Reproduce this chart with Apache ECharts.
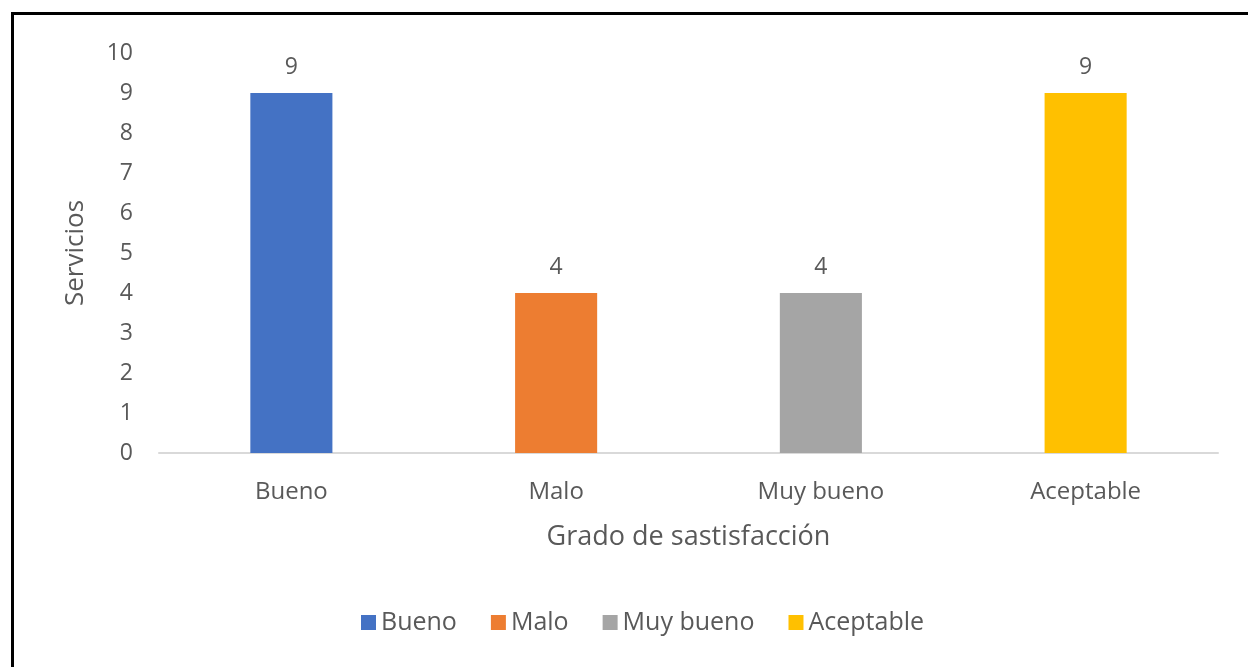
<!DOCTYPE html>
<html>
<head>
<meta charset="utf-8">
<script src="https://cdn.jsdelivr.net/npm/echarts@6/dist/echarts.min.js"></script>
<style>
  html, body { margin: 0; padding: 0; background: #fff; }
  #main { width: 1248px; height: 667px; }
</style>
</head>
<body>
<div id="main"></div>
<script>
// data
const categories = ["Bueno", "Malo", "Muy bueno", "Aceptable"];
const values = [9, 4, 4, 9];
const colors = ["#4472c4", "#ed7d31", "#a5a5a5", "#ffc000"];
const yTicks = { min: 0, max: 10, interval: 1 };

const textColor = "#595959";
const fontFamily = "'Open Sans', sans-serif";

const chart = echarts.init(document.getElementById("main"));

// one series per category so the legend gets one entry each
const series = categories.map((name, i) => ({
  name: name,
  type: "bar",
  stack: "all",
  barWidth: "31%",
  itemStyle: { color: colors[i] },
  label: {
    show: true,
    position: "top",
    distance: 14,
    color: textColor,
    fontFamily: fontFamily,
    fontSize: 23
  },
  data: categories.map((c, j) => (j === i ? values[i] : "-"))
}));

chart.setOption({
  animation: false,
  textStyle: { fontFamily: fontFamily, color: textColor },
  graphic: [
    {
      type: "rect",
      shape: { x: 12.5, y: 13.5, width: 1400, height: 800 },
      style: { fill: "none", stroke: "#000", lineWidth: 3 }
    }
  ],
  grid: { left: 159, right: 30, top: 53, bottom: 214 },
  legend: {
    bottom: 27,
    left: 356,
    itemWidth: 15,
    itemHeight: 15,
    itemGap: 34,
    icon: "rect",
    textStyle: { fontSize: 25, color: textColor, fontFamily: fontFamily },
    data: categories
  },
  xAxis: {
    type: "category",
    data: categories,
    name: "Grado de sastisfacción",
    nameLocation: "middle",
    nameGap: 71,
    nameTextStyle: { fontSize: 27, color: textColor },
    axisLine: { lineStyle: { color: "#d9d9d9", width: 2 } },
    axisTick: { show: false },
    axisLabel: { fontSize: 24, color: textColor, margin: 27 }
  },
  yAxis: {
    type: "value",
    min: yTicks.min,
    max: yTicks.max,
    interval: yTicks.interval,
    name: "Servicios",
    nameLocation: "middle",
    nameGap: 70,
    nameRotate: 90,
    nameTextStyle: { fontSize: 26, color: textColor },
    axisLine: { show: false },
    axisTick: { show: false },
    splitLine: { show: false },
    axisLabel: { fontSize: 23, color: textColor, margin: 26 }
  },
  series: series
});
</script>
</body>
</html>
